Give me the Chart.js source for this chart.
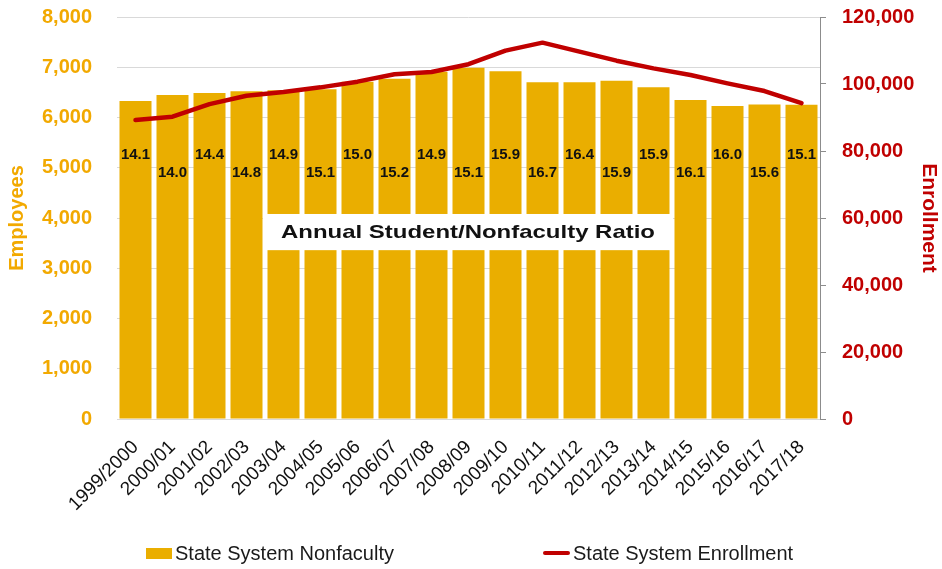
<!DOCTYPE html>
<html>
<head>
<meta charset="utf-8">
<script src="https://cdn.jsdelivr.net/npm/chart.js@4/dist/chart.umd.min.js"></script>
<style>
  html, body { margin: 0; padding: 0; background: #fff; }
  #wrap { position: relative; width: 942px; height: 569px; font-family: "Liberation Sans", Arial, sans-serif; }
  #legend { position: absolute; left: 0; top: 540px; width: 942px; height: 28px; font-size: 20px; color: #1a1a1a; }
  .item { position: absolute; top: 0; white-space: nowrap; line-height: 26px; }
  .swatch-bar { display: inline-block; width: 26px; height: 11px; background: #EAAE00; vertical-align: 1px; margin-right: 3px; }
  .swatch-line { display: inline-block; width: 27px; height: 4px; background: #C00000; vertical-align: 5px; margin-right: 3px; border-radius: 2px; }
</style>
</head>
<body>
<div id="wrap">
  <canvas id="c" width="942" height="569"></canvas>
  <div id="legend">
    <div class="item" style="left:146px"><span class="swatch-bar"></span>State System Nonfaculty</div>
    <div class="item" style="left:543px"><span class="swatch-line"></span>State System Enrollment</div>
  </div>
</div>
<script>
// Academic years shown on the category axis
const years = ["1999/2000","2000/01","2001/02","2002/03","2003/04","2004/05","2005/06",
  "2006/07","2007/08","2008/09","2009/10","2010/11","2011/12","2012/13","2013/14",
  "2014/15","2015/16","2016/17","2017/18"];

// Nonfaculty employees (left axis)
const nonfaculty = [6330, 6450, 6490, 6520, 6540, 6560, 6710, 6770, 6910, 6990,
  6920, 6700, 6700, 6730, 6600, 6350, 6230, 6260, 6255];

// Student enrollment (right axis)
const enrollment = [89250, 90240, 94000, 96500, 97600, 99000, 100700, 102900, 103600, 105900,
  109950, 112340, 109650, 106960, 104670, 102680, 100200, 97900, 94300];

// Annual student / nonfaculty ratio printed on each bar
const ratio = [14.1, 14.0, 14.4, 14.8, 14.9, 15.1, 15.0, 15.2, 14.9, 15.1,
  15.9, 16.7, 16.4, 15.9, 15.9, 16.1, 16.0, 15.6, 15.1];

// Axis tick ranges
const employeeTicks = { min: 0, max: 8000, step: 1000 };
const enrollmentTicks = { min: 0, max: 120000, step: 20000 };

const GOLD = "#EAAE00";
const GOLD_TEXT = "#F2A900";
const RED = "#C00000";
const fmt = v => Number(v).toLocaleString("en-US");

// keep the plot area flush with the layout padding
function noVerticalPadding(s) { s.paddingTop = 0; s.paddingBottom = 0; }

// Ratio labels on the bars plus the white caption band across the middle
const ratioPlugin = {
  id: "ratioLabels",
  afterDatasetsDraw(chart) {
    const ctx = chart.ctx;
    const x = chart.scales.x;
    const y = chart.scales.yL;
    const meta = chart.getDatasetMeta(0);
    ctx.save();
    ctx.font = "bold 15px 'Liberation Sans', Arial, sans-serif";
    ctx.fillStyle = "#111";
    ctx.textAlign = "center";
    ctx.textBaseline = "middle";
    ratio.forEach((r, i) => {
      const bar = meta.data[i];
      const yy = y.getPixelForValue(i % 2 === 0 ? 5250 : 4895);
      ctx.fillText(r.toFixed(1), bar.x, yy);
    });

    // caption band spanning 2003/04 .. 2013/14
    const cw = x.getPixelForValue(1) - x.getPixelForValue(0);
    const left = x.getPixelForValue(4) - cw / 2 - 2;
    const right = x.getPixelForValue(14) + cw / 2 + 1;
    const top = y.getPixelForValue(4080);
    const bottom = y.getPixelForValue(3360);
    ctx.fillStyle = "#fff";
    ctx.fillRect(left, top, right - left, bottom - top);

    const label = "Annual Student/Nonfaculty Ratio";
    ctx.font = "bold 19px 'Liberation Sans', Arial, sans-serif";
    const w = ctx.measureText(label).width;
    const sx = 374 / w;
    ctx.translate((left + right) / 2, (top + bottom) / 2 + 1);
    ctx.scale(sx, 1);
    ctx.fillStyle = "#111";
    ctx.fillText(label, 0, 0);
    ctx.restore();
  }
};

new Chart(document.getElementById("c"), {
  data: {
    labels: years,
    datasets: [
      {
        type: "bar",
        label: "State System Nonfaculty",
        data: nonfaculty,
        yAxisID: "yL",
        backgroundColor: GOLD,
        borderWidth: 0,
        barPercentage: 0.865,
        categoryPercentage: 1.0,
        order: 2
      },
      {
        type: "line",
        label: "State System Enrollment",
        data: enrollment,
        yAxisID: "yR",
        borderColor: RED,
        backgroundColor: RED,
        borderWidth: 4.5,
        pointRadius: 0,
        tension: 0,
        borderCapStyle: "round",
        borderJoinStyle: "round",
        order: 1
      }
    ]
  },
  options: {
    responsive: false,
    animation: false,
    layout: { padding: { top: 17, left: 0, right: 0, bottom: 0 } },
    plugins: {
      legend: { display: false },
      tooltip: { enabled: false }
    },
    scales: {
      x: {
        grid: { display: false },
        border: { display: true, color: "#D9D9D9", width: 1 },
        ticks: {
          color: "#111",
          font: { family: "'Liberation Sans', Arial, sans-serif", size: 19 },
          maxRotation: 45,
          minRotation: 45,
          autoSkip: false,
          padding: 9
        },
        afterFit(s) { s.height = 150; }
      },
      yL: {
        position: "left",
        min: employeeTicks.min,
        max: employeeTicks.max,
        ticks: {
          stepSize: employeeTicks.step,
          color: GOLD_TEXT,
          padding: 25,
          font: { family: "'Liberation Sans', Arial, sans-serif", size: 20, weight: "bold" },
          callback: v => fmt(v)
        },
        grid: { color: "#D9D9D9", drawTicks: false, lineWidth: 1 },
        border: { display: false },
        title: {
          display: true,
          text: "Employees",
          color: GOLD_TEXT,
          padding: { top: 5, bottom: 2 },
          font: { family: "'Liberation Sans', Arial, sans-serif", size: 20, weight: "bold" }
        },
        afterFit(s) { s.width = 117; noVerticalPadding(s); }
      },
      yR: {
        position: "right",
        min: enrollmentTicks.min,
        max: enrollmentTicks.max,
        ticks: {
          stepSize: enrollmentTicks.step,
          color: RED,
          padding: 16,
          font: { family: "'Liberation Sans', Arial, sans-serif", size: 20, weight: "bold" },
          callback: v => fmt(v)
        },
        grid: { drawOnChartArea: false, drawTicks: true, tickLength: 6, color: "#8C8C8C" },
        border: { display: true, color: "#8C8C8C", width: 1 },
        title: {
          display: true,
          text: "Enrollment",
          color: RED,
          padding: { top: 1, bottom: 0 },
          font: { family: "'Liberation Sans', Arial, sans-serif", size: 21, weight: "bold" }
        },
        afterFit(s) { s.width = 122; noVerticalPadding(s); }
      }
    }
  },
  plugins: [ratioPlugin]
});
</script>
</body>
</html>
